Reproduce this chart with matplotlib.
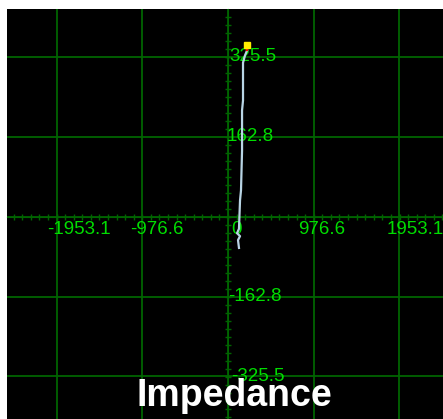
import numpy as np
import matplotlib.pyplot as plt
import matplotlib.transforms as mtransforms

# impedance trace (real, imaginary)
z_re = [125, 114, 137, 103, 125, 137, 148, 160, 160, 171, 171, 194, 217, 217]
z_im = [-64, -48, -40, -34, -25, 33, 53, 134, 216, 236, 313, 328, 338, 348]

grid_x = [-1953.1, -976.6, 0, 976.6, 1953.1]
grid_y = [-325.5, -162.8, 0, 162.8, 325.5]
xlabels = ["-1953.1", "-976.6", "0", "976.6", "1953.1"]
ylabels = ["-325.5", "-162.8", "", "162.8", "325.5"]

GRID = '#006400'
LBL = '#00dd00'

fig = plt.figure(figsize=(4.43, 4.19), dpi=100)
fig.patch.set_facecolor('white')
ax = fig.add_axes([7 / 443, 0, 436 / 443, 410 / 419])
ax.set_facecolor('black')

for g in grid_x:
    ax.axvline(g, color=GRID, lw=1.3, zorder=1)
for g in grid_y:
    ax.axhline(g, color=GRID, lw=1.3, zorder=1)

# center axes with minor ticks
for s in ['top', 'right']:
    ax.spines[s].set_visible(False)
ax.spines['left'].set_position('zero')
ax.spines['bottom'].set_position('zero')
ax.spines['left'].set_color(GRID)
ax.spines['bottom'].set_color(GRID)
ax.set_xticks(grid_x)
ax.set_yticks(grid_y)
ax.set_xticks(np.arange(-25, 26) * 97.66, minor=True)
ax.set_yticks(np.arange(-26, 27) * 16.28, minor=True)
ax.tick_params(which='both', direction='inout', length=5, width=1, color=GRID,
               labelbottom=False, labelleft=False)

sx = 976.6 / 85.75
sy = 162.8 / 80.0
ax.set_xlim((7 - 228) * sx, (443 - 228) * sx)
ax.set_ylim((216.5 - 419) * sy, (216.5 - 9) * sy)

# labels
xoff = [-9, -12, 3, -16, -13]
for v, t, dx in zip(grid_x, xlabels, xoff):
    tr = mtransforms.offset_copy(ax.transData, fig=fig, x=dx, y=-12.5, units='dots')
    ax.text(v, 0, t, transform=tr, color=LBL, fontsize=13.5, ha='left', va='center',
            family='Liberation Sans', zorder=3)
yoff = [3, 0, 0, -1, 1]
for v, t, dx in zip(grid_y, ylabels, yoff):
    if not t:
        continue
    tr = mtransforms.offset_copy(ax.transData, fig=fig, x=dx, y=0, units='dots')
    ax.text(0, v, t, transform=tr, color=LBL, fontsize=13.5, ha='left', va='center',
            family='Liberation Sans', zorder=3)

ax.plot(z_re[:-1], z_im[:-1], color='#b8d4e4', lw=1.6, zorder=4)
ax.plot(z_re[-2:], z_im[-2:], color='red', lw=1.6, zorder=4)
ax.plot(z_re[-1], z_im[-1], marker='s', ms=4.5, color='#ffee00', mec='#ffee00', zorder=5)

fig.text(0.53, 0.055, "Impedance", color='white', fontsize=27, fontweight='bold',
         ha='center', va='center', family='Liberation Sans')

fig.savefig('out.png', dpi=100, facecolor='white')
